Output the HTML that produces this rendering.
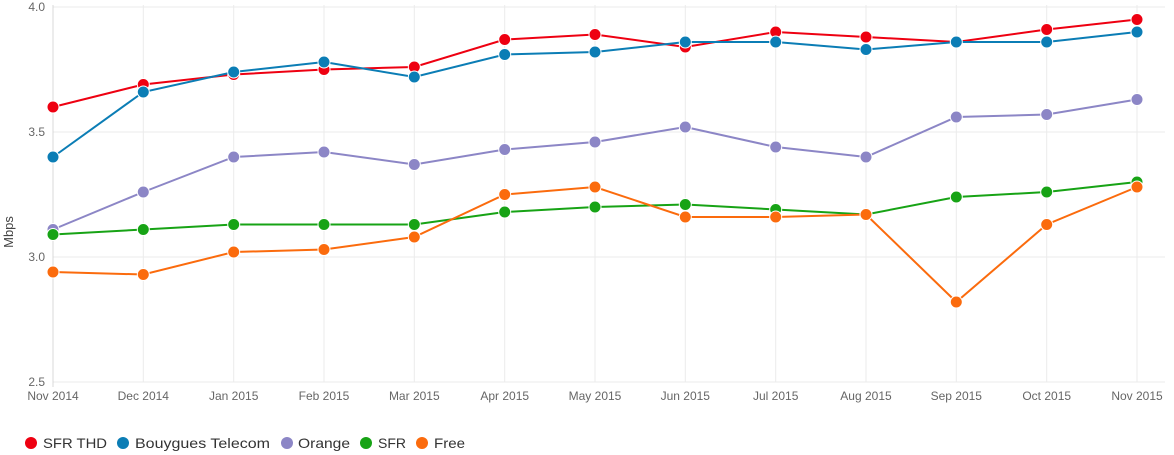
<!DOCTYPE html>
<html><head><meta charset="utf-8"><style>
body{margin:0;background:#fff;}
svg{display:block;font-family:"Liberation Sans",sans-serif;}
</style></head><body>
<svg width="1174" height="455" viewBox="0 0 1174 455">
<g stroke="#ebebeb" stroke-width="1">
<line x1="53" y1="7" x2="1165" y2="7"/><line x1="53" y1="132" x2="1165" y2="132"/><line x1="53" y1="257" x2="1165" y2="257"/><line x1="53" y1="382" x2="1165" y2="382"/>
<line x1="143.3" y1="5" x2="143.3" y2="382"/><line x1="233.7" y1="5" x2="233.7" y2="382"/><line x1="324" y1="5" x2="324" y2="382"/><line x1="414.3" y1="5" x2="414.3" y2="382"/><line x1="504.7" y1="5" x2="504.7" y2="382"/><line x1="595" y1="5" x2="595" y2="382"/><line x1="685.3" y1="5" x2="685.3" y2="382"/><line x1="775.7" y1="5" x2="775.7" y2="382"/><line x1="866" y1="5" x2="866" y2="382"/><line x1="956.3" y1="5" x2="956.3" y2="382"/><line x1="1046.7" y1="5" x2="1046.7" y2="382"/><line x1="1137" y1="5" x2="1137" y2="382"/>
</g>
<line x1="53" y1="5" x2="53" y2="387" stroke="#d8d8d8"/>
<g fill="#666" font-size="12" text-anchor="end">
<text x="45" y="11">4.0</text><text x="45" y="136">3.5</text><text x="45" y="261">3.0</text><text x="45" y="386">2.5</text>
</g>
<text x="13" y="232" fill="#444" font-size="13" text-anchor="middle" transform="rotate(-90 13 232)">Mbps</text>
<g fill="#666" font-size="12" text-anchor="middle">
<text x="53" y="400">Nov 2014</text><text x="143.3" y="400">Dec 2014</text><text x="233.7" y="400">Jan 2015</text><text x="324" y="400">Feb 2015</text><text x="414.3" y="400">Mar 2015</text><text x="504.7" y="400">Apr 2015</text><text x="595" y="400">May 2015</text><text x="685.3" y="400">Jun 2015</text><text x="775.7" y="400">Jul 2015</text><text x="866" y="400">Aug 2015</text><text x="956.3" y="400">Sep 2015</text><text x="1046.7" y="400">Oct 2015</text><text x="1137" y="400">Nov 2015</text>
</g>
<polyline fill="none" stroke-width="2" stroke="#ee0011" points="53,107 143.3,84.5 233.7,74.5 324,69.5 414.3,67 504.7,39.5 595,34.5 685.3,47 775.7,32 866,37 956.3,42 1046.7,29.5 1137,19.5"/>
<g fill="#ee0011" stroke="#fff" stroke-width="1">
<circle cx="53" cy="107" r="6"/><circle cx="143.3" cy="84.5" r="6"/><circle cx="233.7" cy="74.5" r="6"/><circle cx="324" cy="69.5" r="6"/><circle cx="414.3" cy="67" r="6"/><circle cx="504.7" cy="39.5" r="6"/><circle cx="595" cy="34.5" r="6"/><circle cx="685.3" cy="47" r="6"/><circle cx="775.7" cy="32" r="6"/><circle cx="866" cy="37" r="6"/><circle cx="956.3" cy="42" r="6"/><circle cx="1046.7" cy="29.5" r="6"/><circle cx="1137" cy="19.5" r="6"/>
</g>
<polyline fill="none" stroke-width="2" stroke="#0b7db5" points="53,157 143.3,92 233.7,72 324,62 414.3,77 504.7,54.5 595,52 685.3,42 775.7,42 866,49.5 956.3,42 1046.7,42 1137,32"/>
<g fill="#0b7db5" stroke="#fff" stroke-width="1">
<circle cx="53" cy="157" r="6"/><circle cx="143.3" cy="92" r="6"/><circle cx="233.7" cy="72" r="6"/><circle cx="324" cy="62" r="6"/><circle cx="414.3" cy="77" r="6"/><circle cx="504.7" cy="54.5" r="6"/><circle cx="595" cy="52" r="6"/><circle cx="685.3" cy="42" r="6"/><circle cx="775.7" cy="42" r="6"/><circle cx="866" cy="49.5" r="6"/><circle cx="956.3" cy="42" r="6"/><circle cx="1046.7" cy="42" r="6"/><circle cx="1137" cy="32" r="6"/>
</g>
<polyline fill="none" stroke-width="2" stroke="#8c86c6" points="53,229.5 143.3,192 233.7,157 324,152 414.3,164.5 504.7,149.5 595,142 685.3,127 775.7,147 866,157 956.3,117 1046.7,114.5 1137,99.5"/>
<g fill="#8c86c6" stroke="#fff" stroke-width="1">
<circle cx="53" cy="229.5" r="6"/><circle cx="143.3" cy="192" r="6"/><circle cx="233.7" cy="157" r="6"/><circle cx="324" cy="152" r="6"/><circle cx="414.3" cy="164.5" r="6"/><circle cx="504.7" cy="149.5" r="6"/><circle cx="595" cy="142" r="6"/><circle cx="685.3" cy="127" r="6"/><circle cx="775.7" cy="147" r="6"/><circle cx="866" cy="157" r="6"/><circle cx="956.3" cy="117" r="6"/><circle cx="1046.7" cy="114.5" r="6"/><circle cx="1137" cy="99.5" r="6"/>
</g>
<polyline fill="none" stroke-width="2" stroke="#17a315" points="53,234.5 143.3,229.5 233.7,224.5 324,224.5 414.3,224.5 504.7,212 595,207 685.3,204.5 775.7,209.5 866,214.5 956.3,197 1046.7,192 1137,182"/>
<g fill="#17a315" stroke="#fff" stroke-width="1">
<circle cx="53" cy="234.5" r="6"/><circle cx="143.3" cy="229.5" r="6"/><circle cx="233.7" cy="224.5" r="6"/><circle cx="324" cy="224.5" r="6"/><circle cx="414.3" cy="224.5" r="6"/><circle cx="504.7" cy="212" r="6"/><circle cx="595" cy="207" r="6"/><circle cx="685.3" cy="204.5" r="6"/><circle cx="775.7" cy="209.5" r="6"/><circle cx="866" cy="214.5" r="6"/><circle cx="956.3" cy="197" r="6"/><circle cx="1046.7" cy="192" r="6"/><circle cx="1137" cy="182" r="6"/>
</g>
<polyline fill="none" stroke-width="2" stroke="#fb6b0d" points="53,272 143.3,274.5 233.7,252 324,249.5 414.3,237 504.7,194.5 595,187 685.3,217 775.7,217 866,214.5 956.3,302 1046.7,224.5 1137,187"/>
<g fill="#fb6b0d" stroke="#fff" stroke-width="1">
<circle cx="53" cy="272" r="6"/><circle cx="143.3" cy="274.5" r="6"/><circle cx="233.7" cy="252" r="6"/><circle cx="324" cy="249.5" r="6"/><circle cx="414.3" cy="237" r="6"/><circle cx="504.7" cy="194.5" r="6"/><circle cx="595" cy="187" r="6"/><circle cx="685.3" cy="217" r="6"/><circle cx="775.7" cy="217" r="6"/><circle cx="866" cy="214.5" r="6"/><circle cx="956.3" cy="302" r="6"/><circle cx="1046.7" cy="224.5" r="6"/><circle cx="1137" cy="187" r="6"/>
</g>
<g font-size="14" fill="#333">
<circle cx="31" cy="443" r="6" fill="#ee0011"/><text x="43" y="448" textLength="64" lengthAdjust="spacingAndGlyphs">SFR THD</text>
<circle cx="123" cy="443" r="6" fill="#0b7db5"/><text x="135" y="448" textLength="135" lengthAdjust="spacingAndGlyphs">Bouygues Telecom</text>
<circle cx="287" cy="443" r="6" fill="#8c86c6"/><text x="298" y="448" textLength="52" lengthAdjust="spacingAndGlyphs">Orange</text>
<circle cx="366" cy="443" r="6" fill="#17a315"/><text x="378" y="448" textLength="28" lengthAdjust="spacingAndGlyphs">SFR</text>
<circle cx="422" cy="443" r="6" fill="#fb6b0d"/><text x="434" y="448" textLength="31" lengthAdjust="spacingAndGlyphs">Free</text>
</g>
</svg>
</body></html>
